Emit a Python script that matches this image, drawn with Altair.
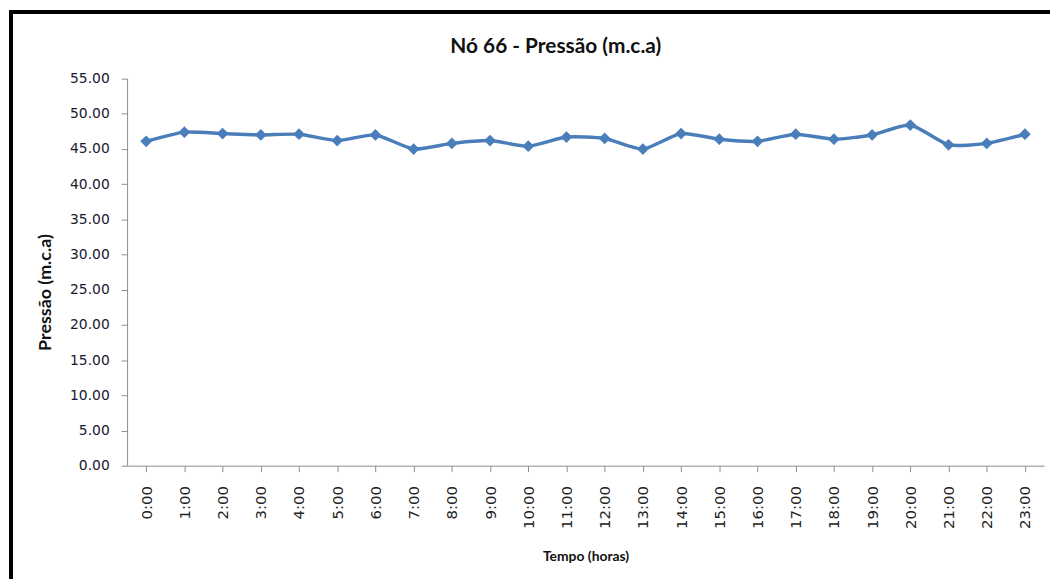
import altair as alt
import pandas as pd

hours = [f"{h}:00" for h in range(24)]
pressure = [46.1, 47.4, 47.2, 47.0, 47.1, 46.2, 47.0, 45.0, 45.8, 46.2, 45.4, 46.7,
            46.5, 45.0, 47.2, 46.4, 46.1, 47.1, 46.4, 47.0, 48.4, 45.6, 45.8, 47.1]
y_ticks = [0, 5, 10, 15, 20, 25, 30, 35, 40, 45, 50, 55]
title_text = "Nó 66 - Pressão (m.c.a)"

df = pd.DataFrame({"hora": hours, "pressao": pressure})

FONT = "Lato"
BLUE = "#4a7ebb"

x_enc = alt.X("hora:N", sort=hours, title="Tempo (horas)",
              scale=alt.Scale(domain=hours, paddingInner=0, paddingOuter=0),
              axis=alt.Axis(labelAngle=270, labelAlign="right", labelBaseline="middle",
                            labelPadding=14, tickSize=6, bandPosition=0,
                            labelFontSize=15, labelFont="DejaVu Sans", labelColor="#222",
                            titleFont=FONT, titleFontSize=14, titleFontWeight="bold",
                            titleColor="#111", titlePadding=21,
                            domainColor="#8c8c8c", tickColor="#8c8c8c", grid=False))
y_enc = alt.Y("pressao:Q", title="Pressão (m.c.a)",
              scale=alt.Scale(domain=[0, 55], nice=False, zero=True),
              axis=alt.Axis(values=y_ticks, format=".2f", tickSize=6, labelOverlap=False,
                            labelFontSize=14, labelFont="DejaVu Sans",
                            labelColor="#1a1a33", labelPadding=12,
                            titleFont=FONT, titleFontSize=18, titleFontWeight="bold",
                            titleColor="#111", titlePadding=15, titleY=215,
                            domainColor="#8c8c8c", tickColor="#8c8c8c", grid=False))

line = alt.Chart(df).mark_line(color=BLUE, strokeWidth=3.5, interpolate="cardinal",
                               tension=0.4).encode(x=x_enc, y=y_enc)
pts = alt.Chart(df).mark_point(shape="diamond", filled=True, color=BLUE, size=140, opacity=1).encode(
    x=x_enc, y=y_enc)

frame = alt.Chart(df).mark_rect(fill=None, stroke="black", strokeWidth=3).encode(
    x=alt.value(-117), x2=alt.value(950), y=alt.value(-67), y2=alt.value(520))

title = alt.Chart(pd.DataFrame({"t": [title_text]})).mark_text(
    font=FONT, fontSize=21, fontWeight="bold", color="#111", align="center", baseline="middle"
).encode(text="t:N", x=alt.value(432), y=alt.value(-32))

chart = alt.layer(frame, line, pts, title).properties(
    width=924, height=390,
    autosize=alt.AutoSizeParams(type="none"),
    padding={"left": 120, "top": 69, "right": 6, "bottom": 112},
).configure(background="white").configure_view(stroke=None)

chart.save("out.html", embed_options={"renderer": "svg", "actions": False})
